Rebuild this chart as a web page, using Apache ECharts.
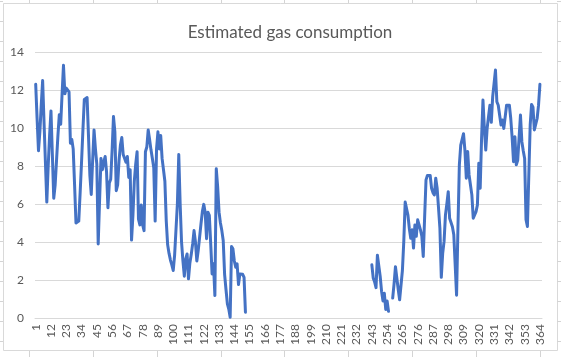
<!DOCTYPE html>
<html>
<head>
<meta charset="utf-8">
<script src="https://cdn.jsdelivr.net/npm/echarts@6/dist/echarts.min.js"></script>
<style>
html,body{margin:0;padding:0;background:#fff;}
#chart{width:561px;height:357px;}
</style>
</head>
<body>
<div id="chart"></div>
<script>
// Day numbers 1..365 (category axis)
const categories = Array.from({length: 365}, (_, i) => String(i + 1));

// Estimated gas consumption, days 1..152
const earlyValues = [
  12.3, 10.5, 8.8, 9.8, 11.2, 12.5, 10.3, 8.2, 6.1, 8.0,
  9.6, 10.9, 8.6, 6.3, 7.0, 8.3, 9.6, 10.7, 10.2, 11.8,
  13.3, 11.8, 12.1, 12.0, 11.9, 9.2, 9.4, 8.9, 7.0, 5.0,
  5.0, 5.1, 6.6, 8.2, 9.9, 11.5, 11.5, 11.6, 9.6, 7.5,
  6.5, 8.3, 9.9, 8.9, 8.1, 3.9, 6.2, 8.4, 7.8, 8.2,
  8.5, 7.7, 5.8, 7.1, 7.3, 8.8, 10.6, 9.8, 6.7, 7.0,
  8.3, 9.1, 9.5, 8.6, 8.5, 8.2, 8.5, 7.4, 7.8, 4.1,
  5.4, 7.2, 8.1, 8.75, 5.2, 4.9, 5.95, 4.9, 4.6, 8.75,
  9.0, 9.9, 9.4, 8.85, 8.4, 7.9, 5.1, 8.9, 9.8, 8.9,
  9.6, 8.4, 7.8, 7.2, 5.1, 3.85, 3.4, 3.05, 2.8, 2.5,
  3.3, 3.3, 6.0, 8.6, 6.0, 4.0, 3.0, 2.2, 3.1, 3.37,
  2.06, 2.9, 3.35, 3.9, 4.6, 4.0, 3.0, 3.55, 3.64, 4.96,
  5.6, 5.98, 5.57, 4.17, 5.57, 5.4, 3.9, 2.32, 2.85, 1.18,
  7.86, 6.9, 5.57, 5.0, 4.6, 4.08, 2.3, 1.5, 0.74, 0.47,
  0.04, 3.76, 3.64, 3.0, 2.67, 2.85, 1.76, 2.32, 2.4, 2.3,
  2.14, 0.3
];

// Estimated gas consumption, days 243..364 (null = missing day)
const lateStartDay = 243;
const lateValues = [
  2.8, 2.1, 1.9, 1.6, 3.3, 3.4, 2.2, 1.4,
  0.9, 1.3, 0.45, 0.9, 0.35, null, null, 1.05, 1.8, 2.7,
  2.1, 1.5, 0.96, 0.91, 2.5, 4.03, 6.1, 6.1, 5.4, 4.7,
  4.2, 4.64, 3.68, 4.9, 4.3, 5.17, 4.9, 4.64, 4.3, 3.24,
  5.3, 7.27, 7.5, 7.45, 7.5, 6.83, 6.6, 6.48, 7.36, 6.83,
  5.8, 4.73, 2.14, 3.4, 4.03, 5.43, 6.0, 6.65, 5.25, 5.25,
  4.8, 4.38, 4.3, 1.2, 4.8, 8.06, 9.1, 9.4, 9.7, 8.84,
  7.36, 8.76, 7.53, 7.0, 6.48, 5.25, 5.17, 5.6, 5.95, 8.14,
  6.83, 9.46, 11.47, 9.98, 8.84, 9.98, 10.6, 11.2, 10.3, 11.65,
  11.73, 13.05, 11.38, 11.2, 11.1, 10.16, 10.42, 9.98, 9.9, 11.2,
  11.2, 11.2, 10.5, 9.5, 8.23, 9.54, 8.06, 8.3, 8.4, 10.68,
  9.28, 8.8, 8.4, 5.17, 4.82, 7.5, 10.16, 11.24, 11.1, 9.9,
  9.8, 10.5, 11.2, 12.3
];

const yTicks = {min: 0, max: 14, interval: 2};

const seriesData = categories.map((c, i) => {
  const day = i + 1;
  if (day <= earlyValues.length) return earlyValues[i];
  const j = day - lateStartDay;
  if (j >= 0 && j < lateValues.length) return lateValues[j];
  return null;
});

// Spreadsheet cell grid around the chart (decoration)
const sheetLines = [];
const gridColor = '#d4d4d4';
const colXs = [29, 93, 157, 221, 284, 348, 412, 476, 540];
const rowYs = [];
for (let y = 1.5; y < 357; y += 20) rowYs.push(y);
colXs.forEach(x => {
  sheetLines.push({type: 'line', shape: {x1: x + 0.5, y1: 0, x2: x + 0.5, y2: 3}, style: {stroke: gridColor, lineWidth: 1}, silent: true});
  sheetLines.push({type: 'line', shape: {x1: x + 0.5, y1: 351, x2: x + 0.5, y2: 357}, style: {stroke: gridColor, lineWidth: 1}, silent: true});
});
rowYs.forEach(y => {
  sheetLines.push({type: 'line', shape: {x1: 0, y1: y, x2: 3, y2: y}, style: {stroke: gridColor, lineWidth: 1}, silent: true});
  sheetLines.push({type: 'line', shape: {x1: 557, y1: y, x2: 561, y2: y}, style: {stroke: gridColor, lineWidth: 1}, silent: true});
});
sheetLines.push({type: 'rect', shape: {x: 3.5, y: 3.5, width: 554, height: 347}, style: {fill: 'none', stroke: '#d9d9d9', lineWidth: 1}, silent: true, z: -1});

const chart = echarts.init(document.getElementById('chart'), null, {renderer: 'canvas'});
chart.setOption({
  animation: false,
  backgroundColor: '#ffffff',
  title: {
    text: 'Estimated gas consumption',
    left: 285,
    textAlign: 'center',
    top: 19,
    textStyle: {fontFamily: 'Lato', fontSize: 17, fontWeight: 'normal', color: '#595959'}
  },
  graphic: sheetLines,
  grid: {left: 35, right: 19, top: 52, bottom: 39, containLabel: false},
  xAxis: {
    type: 'category',
    data: categories,
    boundaryGap: true,
    axisLine: {show: true, lineStyle: {color: '#d9d9d9', width: 1}},
    axisTick: {show: false},
    axisLabel: {
      interval: 10,
      rotate: 90,
      margin: 6,
      color: '#595959',
      fontFamily: 'Lato',
      fontSize: 12
    },
    splitLine: {show: false}
  },
  yAxis: {
    type: 'value',
    min: yTicks.min,
    max: yTicks.max,
    interval: yTicks.interval,
    axisLine: {show: false},
    axisTick: {show: false},
    axisLabel: {color: '#595959', fontFamily: 'Lato', fontSize: 12, margin: 11},
    splitLine: {lineStyle: {color: '#d9d9d9', width: 1}}
  },
  series: [{
    type: 'line',
    data: seriesData,
    showSymbol: false,
    symbol: 'none',
    connectNulls: false,
    smooth: false,
    lineStyle: {color: '#4472c4', width: 3, join: 'round', cap: 'round'},
    itemStyle: {color: '#4472c4'}
  }]
});
</script>
</body>
</html>
